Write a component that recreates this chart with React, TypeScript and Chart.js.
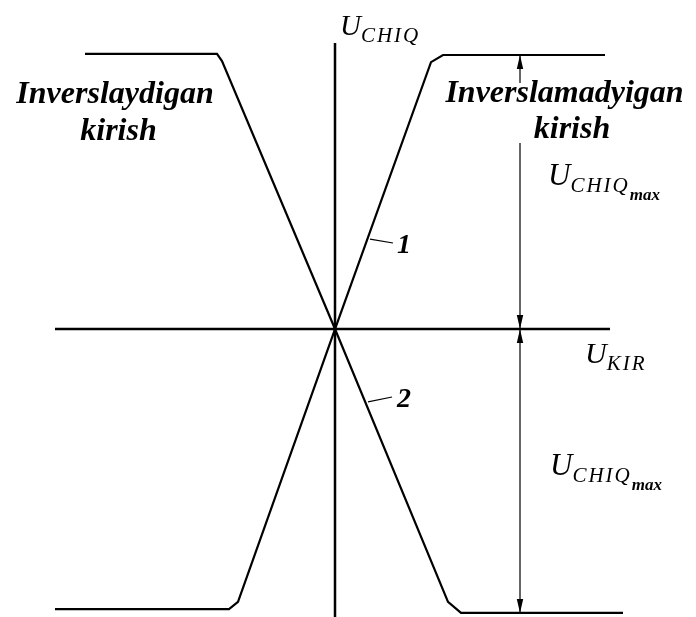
import React, { useEffect, useRef } from "react";
import { Chart, registerables } from "chart.js";

Chart.register(...registerables);

// Transfer characteristic: 1 = non-inverting input, 2 = inverting input
const curve1X = [-2.8, -1.06, -0.97, 0, 0.96, 1.08, 2.7];
const curve1Y = [-10.22, -10.22, -9.96, 0, 9.74, 10.0, 10.0];
const curve2X = [-2.5, -1.18, -1.13, 0, 1.13, 1.26, 2.88];
const curve2Y = [10.04, 10.04, 9.78, 0, -9.96, -10.36, -10.36];

// Coordinate axes (U_KIR horizontal, U_CHIQ vertical)
const hAxisX = [-2.8, 2.75];
const hAxisY = [0, 0];
const vAxisX = [0, 0];
const vAxisY = [10.44, -10.6];

// Dimension line for U_CHIQmax
const dimX = 1.85;
const dimTopY = [10.0, 8.98];
const dimMidY = [6.79, 0];
const dimLowY = [0, -10.36];
const arrowTipsY = [10.0, 0, 0, -10.36];
const arrowDirs = [-1, 1, -1, 1];

// Leader lines for the curve numbers
const leader1X = [0.35, 0.58];
const leader1Y = [3.28, 3.14];
const leader2X = [0.33, 0.57];
const leader2Y = [-2.66, -2.48];

const pts = (xs: number[], ys: number[]) => xs.map((x, i) => ({ x, y: ys[i] }));

const SERIF = '"Liberation Serif", "DejaVu Serif", serif';

type Part = { text: string; font: string; dy: number; ls?: string };
type Label = { parts: Part[]; x: number; y: number; align?: CanvasTextAlign; maxW?: number };

const uchiqmax = (): Part[] => [
  { text: "U", font: `italic 31px ${SERIF}`, dy: 0 },
  { text: "CHIQ", font: `italic 21px ${SERIF}`, dy: 7, ls: "2px" },
  { text: "max", font: `bold italic 17px ${SERIF}`, dy: 15 },
];

const labels: Label[] = [
  { parts: [{ text: "Inverslaydigan", font: `bold italic 32px ${SERIF}`, dy: 0 }], x: -2.2, y: 8.25, align: "center", maxW: 212 },
  { parts: [{ text: "kirish", font: `bold italic 32px ${SERIF}`, dy: 0 }], x: -2.165, y: 6.9, align: "center" },
  { parts: [{ text: "Inverslamadyigan", font: `bold italic 32px ${SERIF}`, dy: 0 }], x: 2.295, y: 8.28, align: "center", maxW: 254 },
  { parts: [{ text: "kirish", font: `bold italic 32px ${SERIF}`, dy: 0 }], x: 2.37, y: 6.97, align: "center" },
  {
    parts: [
      { text: "U", font: `italic 29px ${SERIF}`, dy: 0 },
      { text: "CHIQ", font: `italic 21px ${SERIF}`, dy: 7, ls: "2px" },
    ],
    x: 0.05,
    y: 10.73,
  },
  { parts: uchiqmax(), x: 2.13, y: 5.26 },
  { parts: uchiqmax(), x: 2.15, y: -5.33 },
  {
    parts: [
      { text: "U", font: `italic 30px ${SERIF}`, dy: 0 },
      { text: "KIR", font: `italic 21px ${SERIF}`, dy: 7, ls: "2px" },
    ],
    x: 2.5,
    y: -1.24,
  },
  { parts: [{ text: "1", font: `bold italic 28px ${SERIF}`, dy: 0 }], x: 0.62, y: 2.77 },
  { parts: [{ text: "2", font: `bold italic 28px ${SERIF}`, dy: 0 }], x: 0.62, y: -2.85 },
];

const annotPlugin = {
  id: "annot",
  afterDatasetsDraw(chart: any) {
    const { ctx, scales } = chart;
    const sx = scales.x;
    const sy = scales.y;
    ctx.save();
    ctx.fillStyle = "#000";
    // arrowheads
    arrowTipsY.forEach((ty: number, i: number) => {
      const px = sx.getPixelForValue(dimX);
      const py = sy.getPixelForValue(ty);
      const d = arrowDirs[i];
      ctx.beginPath();
      ctx.moveTo(px, py);
      ctx.lineTo(px - 3.2, py - d * 14);
      ctx.lineTo(px + 3.2, py - d * 14);
      ctx.closePath();
      ctx.fill();
    });
    // texts
    ctx.textBaseline = "alphabetic";
    labels.forEach((lab) => {
      const px = sx.getPixelForValue(lab.x);
      const py = sy.getPixelForValue(lab.y);
      let cx = px;
      ctx.textAlign = lab.align || "left";
      lab.parts.forEach((p) => {
        ctx.font = p.font;
        (ctx as any).letterSpacing = p.ls || "0px";
        if (lab.maxW) ctx.fillText(p.text, cx, py + p.dy, lab.maxW);
        else ctx.fillText(p.text, cx, py + p.dy);
        cx += ctx.measureText(p.text).width;
      });
      (ctx as any).letterSpacing = "0px";
    });
    ctx.restore();
  },
};

export default function App() {
  const ref = useRef<HTMLCanvasElement>(null);
  useEffect(() => {
    if (!ref.current) return;
    const line = (data: any[], width: number) => ({
      data,
      showLine: true,
      borderColor: "#000",
      backgroundColor: "#000",
      borderWidth: width,
      pointRadius: 0,
      pointHoverRadius: 0,
      tension: 0,
      fill: false,
      clip: false,
    });
    const chart = new Chart(ref.current, {
      type: "scatter",
      data: {
        datasets: [
          line(pts(hAxisX, hAxisY), 2.5),
          line(pts(vAxisX, vAxisY), 2.5),
          line(pts(curve1X, curve1Y), 2.2),
          line(pts(curve2X, curve2Y), 2.2),
          line(pts([dimX, dimX], dimTopY), 1.2),
          line(pts([dimX, dimX], dimMidY), 1.2),
          line(pts([dimX, dimX], dimLowY), 1.2),
          line(pts(leader1X, leader1Y), 1.2),
          line(pts(leader2X, leader2Y), 1.2),
        ],
      },
      options: {
        animation: false,
        responsive: false,
        devicePixelRatio: 1,
        layout: { padding: 0 },
        plugins: { legend: { display: false }, tooltip: { enabled: false }, title: { display: false } },
        events: [],
        scales: {
          x: { type: "linear", min: -3.35, max: 3.61, display: false },
          y: { type: "linear", min: -10.51, max: 12.007, display: false },
        },
      },
      plugins: [annotPlugin],
    });
    return () => chart.destroy();
  }, []);
  return (
    <div style={{ position: "fixed", left: 0, top: 0, width: 696, height: 617, background: "#fff" }}>
      <canvas ref={ref} width={696} height={617} />
    </div>
  );
}
